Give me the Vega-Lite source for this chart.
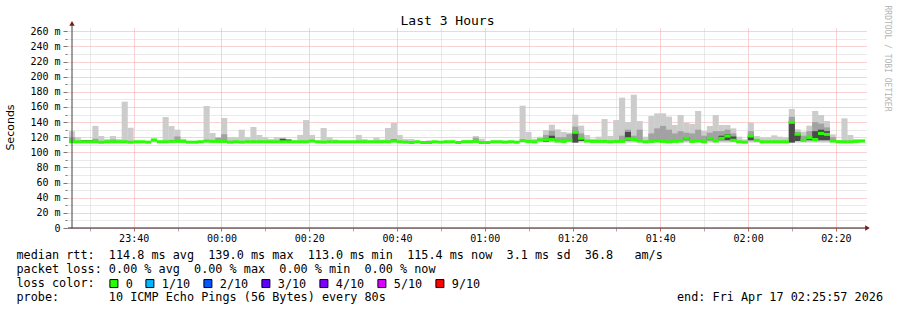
{
  "$schema": "https://vega.github.io/schema/vega-lite/v6.json",
  "width": 800,
  "height": 200,
  "autosize": {"type": "none"},
  "padding": {"left": 67, "top": 28, "right": 30, "bottom": 82},
  "background": "#ffffff",
  "config": {"view": {"stroke": null}, "font": "DejaVu Sans Mono"},
  "title": {"text": "Last 3 Hours", "font": "DejaVu Sans Mono", "fontSize": 13, "fontWeight": "normal", "color": "#000000", "dx": -19.5, "offset": -22.5},
  "data": {"values": [
    {"t": 25.96, "lo": 113, "hi": 128, "a": 113, "b": 120, "med": 114},
    {"t": 27.29, "lo": 113, "hi": 120, "med": 114},
    {"t": 28.62, "lo": 113, "hi": 116, "c": 113.5, "d": 116, "med": 114},
    {"t": 29.96, "lo": 113, "hi": 116, "c": 113.5, "d": 116, "med": 114},
    {"t": 31.29, "lo": 113, "hi": 135, "a": 114, "b": 118, "med": 114},
    {"t": 32.62, "lo": 113, "hi": 121.6, "med": 113.5},
    {"t": 33.96, "lo": 113, "hi": 117.6, "med": 114},
    {"t": 35.29, "lo": 113, "hi": 121.6, "a": 114, "b": 117, "med": 114},
    {"t": 36.62, "lo": 113, "hi": 117.6, "med": 114},
    {"t": 37.96, "lo": 113, "hi": 167, "med": 114},
    {"t": 39.29, "lo": 113, "hi": 132.6, "med": 113.5},
    {"t": 40.62, "lo": 113, "hi": 115.4, "med": 114},
    {"t": 41.96, "lo": 113, "hi": 114.5, "med": 114},
    {"t": 43.29, "lo": 113, "hi": 114.5, "med": 113.5},
    {"t": 44.62, "lo": 113, "hi": 117.5, "med": 116.5},
    {"t": 45.96, "lo": 113, "hi": 115.4, "med": 114},
    {"t": 47.29, "lo": 113, "hi": 146.7, "med": 114},
    {"t": 48.62, "lo": 113, "hi": 134.8, "med": 114.5},
    {"t": 49.96, "lo": 113, "hi": 130, "a": 115, "b": 121, "med": 114.5},
    {"t": 51.29, "lo": 113, "hi": 118, "med": 114.5},
    {"t": 52.62, "lo": 113, "hi": 114.5, "med": 113.5},
    {"t": 53.96, "lo": 113, "hi": 114.5, "med": 113.5},
    {"t": 55.29, "lo": 113, "hi": 115.4, "med": 114},
    {"t": 56.62, "lo": 113, "hi": 161.3, "med": 115},
    {"t": 57.96, "lo": 113, "hi": 125.6, "med": 114.5},
    {"t": 59.29, "lo": 113, "hi": 119.4, "a": 115, "b": 119.4, "med": 114.5},
    {"t": 60.62, "lo": 113, "hi": 145.4, "a": 115, "b": 124, "med": 114.5},
    {"t": 61.96, "lo": 113, "hi": 120, "med": 113.5},
    {"t": 63.29, "lo": 113, "hi": 120, "med": 114},
    {"t": 64.62, "lo": 113, "hi": 130, "med": 113.5},
    {"t": 65.96, "lo": 113, "hi": 120, "med": 114},
    {"t": 67.29, "lo": 113, "hi": 133.5, "med": 114},
    {"t": 68.62, "lo": 113, "hi": 123, "med": 114},
    {"t": 69.96, "lo": 113, "hi": 120, "med": 114},
    {"t": 71.29, "lo": 113, "hi": 117.6, "med": 114},
    {"t": 72.62, "lo": 113, "hi": 119.8, "med": 114},
    {"t": 73.96, "lo": 113, "hi": 119.8, "c": 115, "d": 118, "med": 114},
    {"t": 75.29, "lo": 113, "hi": 117, "c": 115, "d": 117, "med": 114},
    {"t": 76.62, "lo": 113, "hi": 115.4, "med": 114},
    {"t": 77.96, "lo": 113, "hi": 123, "med": 114},
    {"t": 79.29, "lo": 113, "hi": 142.7, "med": 114},
    {"t": 80.62, "lo": 113, "hi": 123, "med": 115},
    {"t": 81.96, "lo": 113, "hi": 115.4, "med": 114},
    {"t": 83.29, "lo": 113, "hi": 132.2, "med": 113.5},
    {"t": 84.62, "lo": 113, "hi": 120, "med": 114},
    {"t": 85.96, "lo": 113, "hi": 117, "med": 114},
    {"t": 87.29, "lo": 113, "hi": 114.5, "med": 114},
    {"t": 88.62, "lo": 113, "hi": 114.5, "med": 114},
    {"t": 89.96, "lo": 113, "hi": 114.5, "med": 114},
    {"t": 91.29, "lo": 113, "hi": 123, "med": 114},
    {"t": 92.62, "lo": 113, "hi": 117.6, "med": 114},
    {"t": 93.96, "lo": 113, "hi": 115.4, "med": 114},
    {"t": 95.29, "lo": 113, "hi": 119.4, "med": 114},
    {"t": 96.62, "lo": 113, "hi": 117, "med": 114},
    {"t": 97.96, "lo": 113, "hi": 132.2, "med": 114},
    {"t": 99.29, "lo": 113, "hi": 138.8, "c": 114, "d": 117, "med": 115},
    {"t": 100.62, "lo": 113, "hi": 123, "med": 114},
    {"t": 101.96, "lo": 113, "hi": 117.6, "med": 113.5},
    {"t": 103.29, "lo": 113, "hi": 117.6, "med": 113},
    {"t": 104.62, "lo": 113, "hi": 114.5, "med": 114},
    {"t": 105.96, "lo": 113, "hi": 114.5, "med": 113},
    {"t": 107.29, "lo": 113, "hi": 115.9, "med": 113},
    {"t": 108.62, "lo": 113, "hi": 114, "med": 114},
    {"t": 109.96, "lo": 113, "hi": 114, "med": 113.5},
    {"t": 111.29, "lo": 113, "hi": 115.4, "med": 114},
    {"t": 112.62, "lo": 113, "hi": 114.5, "med": 114},
    {"t": 113.96, "lo": 113, "hi": 114.5, "med": 113},
    {"t": 115.29, "lo": 113, "hi": 115.9, "med": 114},
    {"t": 116.62, "lo": 113, "hi": 116.3, "med": 114},
    {"t": 117.96, "lo": 113, "hi": 121.6, "a": 115, "b": 119.4, "med": 114.5},
    {"t": 119.29, "lo": 113, "hi": 118, "med": 113},
    {"t": 120.62, "lo": 113, "hi": 114.5, "med": 113},
    {"t": 121.96, "lo": 113, "hi": 115.4, "med": 114},
    {"t": 123.29, "lo": 113, "hi": 115.4, "med": 114},
    {"t": 124.62, "lo": 113, "hi": 115.4, "med": 113.5},
    {"t": 125.96, "lo": 113, "hi": 115.4, "med": 114},
    {"t": 127.29, "lo": 113, "hi": 114.5, "med": 113.5},
    {"t": 128.62, "lo": 113, "hi": 161.7, "med": 115.5},
    {"t": 129.96, "lo": 113, "hi": 126.9, "med": 114.5},
    {"t": 131.29, "lo": 113, "hi": 118, "med": 114},
    {"t": 132.62, "lo": 113, "hi": 120.7, "a": 115, "b": 118, "med": 116.5},
    {"t": 133.96, "lo": 113, "hi": 129.5, "a": 115, "b": 123, "c": 114, "d": 118, "med": 116.5},
    {"t": 135.29, "lo": 113, "hi": 136.6, "a": 116, "b": 128.6, "c": 115, "d": 122, "med": 117},
    {"t": 136.62, "lo": 113, "hi": 130.4, "a": 115, "b": 120, "med": 115},
    {"t": 137.96, "lo": 113, "hi": 126.9, "a": 115, "b": 120, "med": 114.5},
    {"t": 139.29, "lo": 113, "hi": 126, "a": 115, "b": 124, "med": 116},
    {"t": 140.62, "lo": 113, "hi": 149.8, "a": 113, "b": 134, "c": 113, "d": 128, "med": 126.5},
    {"t": 141.96, "lo": 113, "hi": 135.3, "a": 115, "b": 125, "c": 115, "d": 119, "med": 118.7},
    {"t": 143.29, "lo": 113, "hi": 122.9, "med": 115},
    {"t": 144.62, "lo": 113, "hi": 118, "med": 114.5},
    {"t": 145.96, "lo": 113, "hi": 120.7, "med": 114.5},
    {"t": 147.29, "lo": 113, "hi": 144, "med": 114.5},
    {"t": 148.62, "lo": 113, "hi": 121.6, "med": 114},
    {"t": 149.96, "lo": 113, "hi": 142.7, "med": 114.5},
    {"t": 151.29, "lo": 113, "hi": 172.3, "a": 115, "b": 122, "med": 114.5},
    {"t": 152.62, "lo": 113, "hi": 140, "a": 115, "b": 130, "c": 116, "d": 127, "med": 118},
    {"t": 153.96, "lo": 113, "hi": 176.2, "a": 115, "b": 122, "med": 117},
    {"t": 155.29, "lo": 113, "hi": 141.4, "a": 115, "b": 130, "med": 115},
    {"t": 156.62, "lo": 113, "hi": 120.7, "med": 114},
    {"t": 157.96, "lo": 113, "hi": 148, "a": 115, "b": 125, "med": 114.5},
    {"t": 159.29, "lo": 113, "hi": 151.5, "a": 115, "b": 131.7, "med": 115},
    {"t": 160.62, "lo": 113, "hi": 151.6, "a": 115, "b": 135, "med": 114.5},
    {"t": 161.96, "lo": 113, "hi": 147.2, "a": 115, "b": 130, "med": 114},
    {"t": 163.29, "lo": 113, "hi": 136.2, "a": 115, "b": 125, "med": 114.5},
    {"t": 164.62, "lo": 113, "hi": 149.4, "a": 116, "b": 128, "med": 115},
    {"t": 165.96, "lo": 113, "hi": 139.2, "a": 116, "b": 126, "c": 116, "d": 120, "med": 118.5},
    {"t": 167.29, "lo": 113, "hi": 137.5, "a": 115, "b": 125, "med": 114.5},
    {"t": 168.62, "lo": 113, "hi": 154.7, "a": 116, "b": 130, "med": 115},
    {"t": 169.96, "lo": 113, "hi": 128.2, "a": 115, "b": 122, "med": 114},
    {"t": 171.29, "lo": 113, "hi": 134.8, "a": 116, "b": 126, "c": 116, "d": 120, "med": 118.5},
    {"t": 172.62, "lo": 113, "hi": 149.4, "a": 116, "b": 128, "med": 115},
    {"t": 173.96, "lo": 113, "hi": 136.2, "a": 116, "b": 128, "c": 116, "d": 122, "med": 118.5},
    {"t": 175.29, "lo": 113, "hi": 136.2, "a": 116, "b": 130, "c": 116, "d": 124, "med": 121.6},
    {"t": 176.62, "lo": 113, "hi": 131.7, "a": 116, "b": 125, "c": 116, "d": 121, "med": 116},
    {"t": 177.96, "lo": 113, "hi": 120.7, "med": 114},
    {"t": 179.29, "lo": 113, "hi": 117.2, "med": 113.5},
    {"t": 180.62, "lo": 113, "hi": 139.2, "a": 116, "b": 128, "c": 116, "d": 122, "med": 121.6},
    {"t": 181.96, "lo": 113, "hi": 121.6, "med": 116},
    {"t": 183.29, "lo": 113, "hi": 119.8, "med": 114},
    {"t": 184.62, "lo": 113, "hi": 119.8, "med": 114},
    {"t": 185.96, "lo": 113, "hi": 122.5, "med": 114},
    {"t": 187.29, "lo": 113, "hi": 120.7, "med": 114},
    {"t": 188.62, "lo": 113, "hi": 119.8, "med": 114},
    {"t": 189.96, "lo": 113, "hi": 157.3, "a": 113, "b": 147, "c": 113, "d": 141, "med": 139.7},
    {"t": 191.29, "lo": 113, "hi": 130.4, "a": 115, "b": 127, "c": 115, "d": 124, "med": 124},
    {"t": 192.62, "lo": 113, "hi": 127.3, "a": 115, "b": 122, "med": 116},
    {"t": 193.96, "lo": 113, "hi": 135.3, "a": 116, "b": 128, "c": 116, "d": 120, "med": 119.4},
    {"t": 195.29, "lo": 113, "hi": 154.7, "a": 116, "b": 140, "c": 116, "d": 128, "med": 117},
    {"t": 196.62, "lo": 113, "hi": 149.4, "a": 116, "b": 138, "c": 116, "d": 130, "med": 125},
    {"t": 197.96, "lo": 113, "hi": 141.4, "a": 116, "b": 133, "c": 116, "d": 128, "med": 123.8},
    {"t": 199.29, "lo": 113, "hi": 123.8, "a": 115, "b": 120, "med": 115},
    {"t": 200.62, "lo": 113, "hi": 116.3, "med": 114},
    {"t": 201.96, "lo": 113, "hi": 145, "med": 114},
    {"t": 203.29, "lo": 113, "hi": 122.9, "med": 114},
    {"t": 204.62, "lo": 113, "hi": 117.6, "med": 114.5},
    {"t": 205.96, "lo": 113, "hi": 117, "med": 115}
  ]},
  "layer": [
    {
      "mark": {"type": "bar", "width": 6.1, "color": "#cccccc", "clip": true},
      "encoding": {
        "x": {
          "field": "t", "type": "quantitative",
          "scale": {"domain": [25.95, 205.95], "nice": false, "zero": false},
          "axis": {
            "values": [30,35,40,45,50,55,60,65,70,75,80,85,90,95,100,105,110,115,120,125,130,135,140,145,150,155,160,165,170,175,180,185,190,195,200,205],
            "labelExpr": "datum.value % 20 ? '' : ((((floor(datum.value/60)+23)%24) < 10 ? '0' : '') + ((floor(datum.value/60)+23)%24) + ':' + ((datum.value%60) < 10 ? '0' : '') + (datum.value%60))",
            "labelFont": "DejaVu Sans Mono", "labelFontSize": 10, "labelColor": "#000000",
            "labelOverlap": false, "labelFlush": false, "labelPadding": 2, "labelBaseline": "top",
            "domain": false,
            "ticks": true, "tickSize": 3,
            "tickColor": {"condition": {"test": "datum.value % 20 === 0", "value": "#e06060"}, "value": "#aaaaaa"},
            "grid": true,
            "gridColor": {"condition": {"test": "datum.value % 20 === 0", "value": "#f4a4a4"}, "value": "#d4d4d4"},
            "gridDash": [1, 1], "gridWidth": 1,
            "title": [
              "median rtt:\u00a0\u00a0114.8 ms avg\u00a0\u00a0139.0 ms max\u00a0\u00a0113.0 ms min\u00a0\u00a0115.4 ms now\u00a0\u00a03.1 ms sd\u00a0\u00a036.8\u00a0\u00a0\u00a0am/s",
              "packet loss:\u00a00.00 % avg\u00a0\u00a00.00 % max\u00a0\u00a00.00 % min\u00a0\u00a00.00 % now",
              "loss color:",
              "probe:\u00a0\u00a0\u00a0\u00a0\u00a0\u00a0\u00a010 ICMP Echo Pings (56 Bytes) every 80s\u00a0\u00a0\u00a0\u00a0\u00a0\u00a0\u00a0\u00a0\u00a0\u00a0\u00a0\u00a0\u00a0\u00a0\u00a0\u00a0\u00a0\u00a0\u00a0\u00a0\u00a0\u00a0\u00a0\u00a0\u00a0\u00a0\u00a0\u00a0\u00a0\u00a0\u00a0\u00a0\u00a0\u00a0\u00a0\u00a0\u00a0\u00a0\u00a0\u00a0\u00a0end: Fri Apr 17 02:25:57 2026"
            ],
            "titleFont": "DejaVu Sans Mono", "titleFontSize": 11.8, "titleFontWeight": "normal", "titleColor": "#000000",
            "titleAlign": "left", "titleAnchor": "start", "titleBaseline": "alphabetic",
            "titleX": -51, "titleY": 30.5, "titleLineHeight": 14
          }
        },
        "y": {
          "field": "lo", "type": "quantitative",
          "scale": {"domain": [0, 264.4], "nice": false, "zero": true},
          "axis": {
            "values": [0,10,20,30,40,50,60,70,80,90,100,110,120,130,140,150,160,170,180,190,200,210,220,230,240,250,260],
            "labelExpr": "datum.value % 20 ? '' : (datum.value == 0 ? '0' : datum.value + ' m')",
            "labelFont": "DejaVu Sans Mono", "labelFontSize": 10, "labelColor": "#000000",
            "labelOverlap": false, "labelFlush": false, "labelPadding": 3,
            "domain": false,
            "tickSize": {"condition": {"test": "datum.value % 20 === 0", "value": 4}, "value": 2},
            "tickColor": "#777777",
            "grid": true,
            "gridColor": {"condition": {"test": "datum.value % 20 === 0", "value": "#f4a4a4"}, "value": "#d4d4d4"},
            "gridDash": [1, 1], "gridWidth": 1,
            "title": "Seconds",
            "titleFont": "DejaVu Sans", "titleFontSize": 11, "titleFontWeight": "normal", "titleColor": "#000000",
            "titleAngle": -90, "titleX": -57, "titleY": 99, "titleAlign": "center", "titleBaseline": "middle"
          }
        },
        "y2": {"field": "hi"}
      }
    },
    {
      "mark": {"type": "bar", "width": 6.1, "color": "#a2a2a2", "clip": true},
      "encoding": {
        "x": {"field": "t", "type": "quantitative"},
        "y": {"field": "a", "type": "quantitative", "axis": null},
        "y2": {"field": "b"}
      }
    },
    {
      "mark": {"type": "bar", "width": 6.1, "color": "#4a4a4a", "clip": true},
      "encoding": {
        "x": {"field": "t", "type": "quantitative"},
        "y": {"field": "c", "type": "quantitative", "axis": null},
        "y2": {"field": "d"}
      }
    },
    {
      "mark": {"type": "tick", "orient": "horizontal", "thickness": 3, "size": 6.1, "clip": true, "opacity": 1},
      "encoding": {
        "x": {"field": "t", "type": "quantitative"},
        "y": {"field": "med", "type": "quantitative", "axis": null},
        "color": {
          "datum": "0",
          "type": "nominal",
          "scale": {"domain": ["0", "1/10", "2/10", "3/10", "4/10", "5/10", "9/10"], "range": ["#26ff00", "#00b8ff", "#0059ff", "#5e00ff", "#7e00ff", "#dd00ff", "#ff0000"]},
          "legend": {
            "orient": "none", "legendX": 41, "legendY": 249.5, "direction": "horizontal", "title": null,
            "symbolType": "square", "symbolSize": 64, "symbolStrokeColor": "#000000", "symbolStrokeWidth": 1, "symbolOpacity": 1,
            "labelFont": "DejaVu Sans Mono", "labelFontSize": 11.8, "labelColor": "#000000", "labelOffset": 6,
            "columnPadding": 10, "padding": 0
          }
        }
      }
    },
    {
      "data": {"values": [{}]},
      "mark": {"type": "rule", "color": "#404040", "strokeWidth": 1},
      "encoding": {
        "x": {"datum": 25.95, "type": "quantitative"},
        "y": {"datum": 0, "type": "quantitative", "axis": null},
        "y2": {"datum": 270}
      }
    },
    {
      "data": {"values": [{}]},
      "mark": {"type": "rule", "color": "#202020", "strokeWidth": 1},
      "encoding": {
        "x": {"datum": 25.0, "type": "quantitative"},
        "x2": {"datum": 206.9},
        "y": {"datum": 0, "type": "quantitative", "axis": null}
      }
    },
    {
      "data": {"values": [{}]},
      "mark": {"type": "point", "shape": "triangle-right", "filled": true, "size": 28, "color": "#7a1a1a", "opacity": 1},
      "encoding": {
        "x": {"datum": 207.2, "type": "quantitative"},
        "y": {"datum": 0, "type": "quantitative", "axis": null}
      }
    },
    {
      "data": {"values": [{}]},
      "mark": {"type": "point", "shape": "triangle-up", "filled": true, "size": 28, "color": "#7a1a1a", "opacity": 1},
      "encoding": {
        "x": {"datum": 25.95, "type": "quantitative"},
        "y": {"datum": 270.5, "type": "quantitative", "axis": {
          "orient": "right", "title": "RRDTOOL / TOBI OETIKER", "labels": false, "ticks": false, "domain": false, "grid": false,
          "titleFont": "DejaVu Sans Mono", "titleFontSize": 8, "titleFontWeight": "normal", "titleColor": "#b4b4b4",
          "titleAngle": 90, "titleX": 19, "titleY": -23, "titleAlign": "left", "titleBaseline": "middle"
        }}
      }
    }
  ],
  "resolve": {"axis": {"y": "independent"}}
}
